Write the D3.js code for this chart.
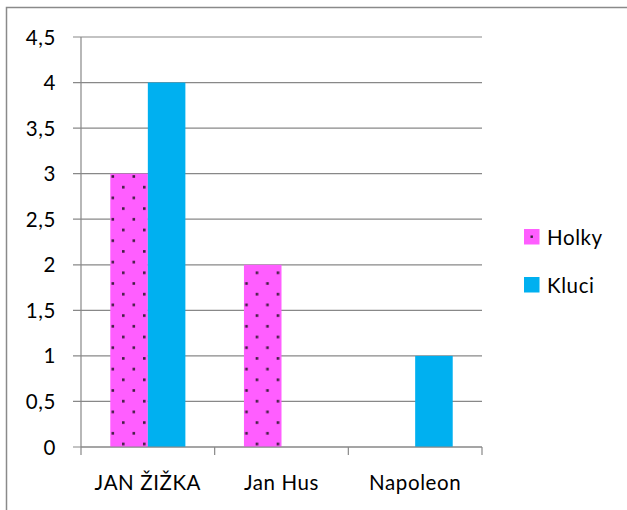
<!DOCTYPE html>
<html><head><meta charset="utf-8">
<script src="https://cdn.jsdelivr.net/npm/d3@7"></script>
<style>body{margin:0;background:#fff}svg{display:block}</style>
</head><body>
<script>
const categories = ["JAN ŽIŽKA", "Jan Hus", "Napoleon"];
const seriesNames = ["Holky", "Kluci"];
const holky = [3, 2, 0];
const kluci = [4, 0, 1];
const yTicks = [0, 0.5, 1, 1.5, 2, 2.5, 3, 3.5, 4, 4.5];

(function () {
const W = 627, H = 510;
const svg = d3.select("body").append("svg").attr("width", W).attr("height", H);
const font = "Lato, 'Open Sans', sans-serif";
const fs = 20.5;
const ls = 0.6;

const defs = svg.append("defs");
const pat = defs.append("pattern").attr("id", "dots").attr("patternUnits", "userSpaceOnUse")
  .attr("width", 21).attr("height", 21.4).attr("x", 111).attr("y", 0);
pat.append("rect").attr("width", 21).attr("height", 21.4).attr("fill", "#FF5EFF");
pat.append("rect").attr("x", 3.5).attr("y", 4).attr("width", 2.6).attr("height", 2.6).attr("fill", "#3f1d3f");
pat.append("rect").attr("x", 14).attr("y", 14.7).attr("width", 2.6).attr("height", 2.6).attr("fill", "#3f1d3f");

// outer border
svg.append("rect").attr("x", 6.5).attr("y", 7.5).attr("width", 640).attr("height", 520)
  .attr("fill", "none").attr("stroke", "#8a8a8a").attr("stroke-width", 1.5);

const pLeft = 81, pRight = 482, pTop = 37, pBottom = 447;
const y = d3.scaleLinear().domain([0, 4.5]).range([pBottom, pTop]);
const x = d3.scaleBand().domain(categories).range([pLeft, pRight]).paddingInner(0).paddingOuter(0);
const inner = d3.scaleBand().domain(seriesNames).range([0, x.bandwidth()]).paddingInner(0).paddingOuter(0.78);

// gridlines
svg.append("g").selectAll("line").data(yTicks).join("line")
  .attr("x1", pLeft - 8).attr("x2", pRight).attr("y1", d => y(d)).attr("y2", d => y(d))
  .attr("stroke", "#888").attr("stroke-width", 1.2);

// bars
const data = categories.map((c, i) => ({c, vals: [{s: "Holky", v: holky[i]}, {s: "Kluci", v: kluci[i]}]}));
const g = svg.append("g").selectAll("g").data(data).join("g")
  .attr("transform", d => `translate(${x(d.c)},0)`);
g.selectAll("rect").data(d => d.vals).join("rect")
  .attr("x", d => inner(d.s)).attr("width", inner.bandwidth())
  .attr("y", d => y(d.v)).attr("height", d => pBottom - y(d.v))
  .attr("fill", d => d.s === "Holky" ? "url(#dots)" : "#00B0F0");

// axes
svg.append("line").attr("x1", pLeft).attr("x2", pLeft).attr("y1", pTop).attr("y2", pBottom)
  .attr("stroke", "#888").attr("stroke-width", 1.2);
svg.append("line").attr("x1", pLeft).attr("x2", pRight).attr("y1", pBottom).attr("y2", pBottom)
  .attr("stroke", "#888").attr("stroke-width", 1.2);
const bounds = categories.map(c => x(c)).concat([pRight]);
svg.append("g").selectAll("line").data(bounds).join("line")
  .attr("x1", d => d).attr("x2", d => d).attr("y1", pBottom).attr("y2", pBottom + 8)
  .attr("stroke", "#888").attr("stroke-width", 1.2);

// y labels
svg.append("g").selectAll("text").data(yTicks).join("text")
  .attr("x", 56).attr("y", d => y(d) + 7.5).attr("text-anchor", "end")
  .attr("font-family", font).attr("font-size", fs).attr("letter-spacing", ls).attr("fill", "#000")
  .text(d => String(d).replace(".", ","));

// x labels
svg.append("g").selectAll("text").data(categories).join("text")
  .attr("x", d => x(d) + x.bandwidth() / 2).attr("y", 490).attr("text-anchor", "middle")
  .attr("font-family", font).attr("font-size", fs).attr("letter-spacing", ls).attr("fill", "#000")
  .text(d => d);

// legend
const lg = svg.append("g").selectAll("g").data(seriesNames).join("g")
  .attr("transform", (d, i) => `translate(524,${229 + i * 48})`);
lg.append("rect").attr("width", 15.5).attr("height", 15.5)
  .attr("fill", d => d === "Holky" ? "#FF5EFF" : "#00B0F0");
lg.filter(d => d === "Holky").append("rect").attr("x", 6.5).attr("y", 6.5).attr("width", 2.4).attr("height", 2.4).attr("fill", "#3f1d3f");
lg.append("text").attr("x", 23).attr("y", 16).attr("font-family", font).attr("font-size", fs).attr("letter-spacing", ls).attr("fill", "#000")
  .text(d => d);
})();
</script>
</body></html>
